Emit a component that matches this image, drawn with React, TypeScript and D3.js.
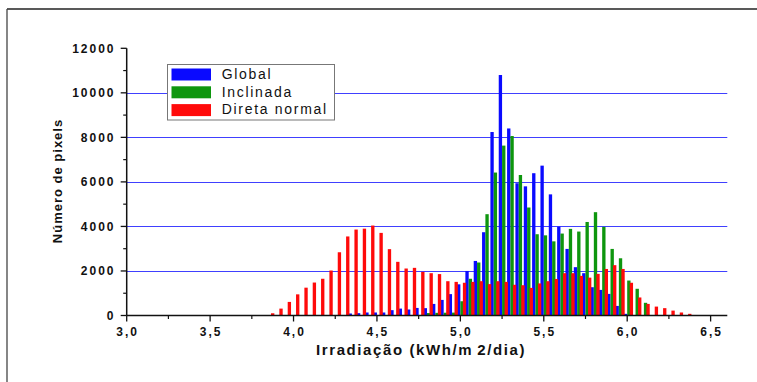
import React from "react";
import * as d3 from "d3";

// Bin positions (kWh/m2/dia), step 0.05
const bins: number[] = [
  3.85, 3.9, 3.95, 4.0, 4.05, 4.1, 4.15, 4.2, 4.25, 4.3,
  4.35, 4.4, 4.45, 4.5, 4.55, 4.6, 4.65, 4.7, 4.75, 4.8,
  4.85, 4.9, 4.95, 5.0, 5.05, 5.1, 5.15, 5.2, 5.25, 5.3,
  5.35, 5.4, 5.45, 5.5, 5.55, 5.6, 5.65, 5.7, 5.75, 5.8,
  5.85, 5.9, 5.95, 6.0, 6.05, 6.1, 6.15, 6.2, 6.25, 6.3, 6.35,
];

const globalValues: number[] = [
  0, 0, 0, 0, 0, 0, 0, 0, 0, 0,
  90, 105, 135, 135, 135, 240, 310, 270, 340, 330,
  520, 700, 960, 1400, 2000, 2450, 3740, 8240, 10800, 8400,
  5940, 5800, 6390, 6730, 5440, 3990, 2990, 2170, 1900, 1270,
  1150, 970, 430, 75, 0, 0, 0, 0, 0, 0, 0,
];

const inclinadaValues: number[] = [
  0, 0, 0, 0, 0, 0, 0, 0, 0, 0,
  0, 0, 0, 0, 0, 0, 0, 0, 0, 110,
  120, 125, 130, 640, 1650, 2380, 4550, 6420, 7630, 8060,
  6310, 4850, 3650, 3600, 3330, 3680, 3890, 3770, 4200, 4640,
  3980, 2990, 2570, 1570, 1200, 570, 0, 0, 0, 0, 0,
];

const diretaValues: number[] = [
  100, 310, 610, 950, 1250, 1480, 1650, 2020, 2840, 3550,
  3860, 3900, 4040, 3710, 2980, 2410, 2110, 2140, 1960, 1900,
  1860, 1540, 1510, 1470, 1510, 1540, 1410, 1540, 1510, 1380,
  1360, 1240, 1440, 1540, 1640, 1900, 1900, 1780, 1700, 1870,
  2090, 2260, 2090, 1470, 810, 520, 400, 330, 220, 135, 75,
];

const seriesNames: string[] = ["Global", "Inclinada", "Direta normal"];
const seriesColors: string[] = ["#0a0aff", "#0e960e", "#ff0a0a"];
const xTickLabels: string[] = ["3,0", "3,5", "4,0", "4,5", "5,0", "5,5", "6,0", "6,5"];
const yTickValues: number[] = [0, 2000, 4000, 6000, 8000, 10000, 12000];

const FONT = "Arial, 'Liberation Sans', sans-serif";

export default function App() {
  const W = 757;
  const H = 382;
  const x = d3.scaleLinear().domain([3, 6.6]).range([126.7, 727.3]);
  const y = d3.scaleLinear().domain([0, 12000]).range([315.5, 48.3]);

  const series = [
    { values: globalValues, offset: -0.02 },
    { values: inclinadaValues, offset: 0 },
    { values: diretaValues, offset: 0.015 },
  ];
  const barW = 0.02;

  const xMajor = d3.range(0, 8).map((i) => 3 + i * 0.5);
  const xMinor = d3.range(0, 14).map((i) => 3.25 + i * 0.5).filter((v) => v < 6.6);
  const yMinor = d3.range(0, 6).map((i) => 1000 + i * 2000);
  const grid = [2000, 4000, 6000, 8000, 10000];

  return (
    <svg
      width={W}
      height={H}
      style={{ position: "absolute", left: 0, top: 0, background: "#fff" }}
      fontFamily={FONT}
    >
      <rect x={0} y={0} width={W} height={H} fill="#fff" />
      {/* frame */}
      <line x1={7} x2={W} y1={9} y2={9} stroke="#222" strokeWidth={1.6} />
      <line x1={7} x2={7} y1={9} y2={H} stroke="#444" strokeWidth={1.3} />

      {/* grid */}
      {grid.map((g) => (
        <line key={g} x1={x(3)} x2={x(6.6)} y1={Math.round(y(g)) + 0.5} y2={Math.round(y(g)) + 0.5} stroke="#4040ff" strokeWidth={1} />
      ))}

      {/* bars */}
      {series.map((s, si) => (
        <g key={si} fill={seriesColors[si]}>
          {s.values.map((v, i) =>
            v > 0 ? (
              <rect
                key={i}
                x={x(bins[i] + s.offset)}
                width={x(bins[i] + s.offset + barW) - x(bins[i] + s.offset)}
                y={y(v)}
                height={y(0) - y(v)}
              />
            ) : null
          )}
        </g>
      ))}

      {/* axes */}
      <line x1={x(3)} x2={x(3)} y1={y(12000)} y2={y(0)} stroke="#111" strokeWidth={1.5} />
      <line x1={x(3)} x2={x(6.6)} y1={y(0)} y2={y(0)} stroke="#111" strokeWidth={1.5} />
      {yTickValues.map((t) => (
        <g key={t}>
          <line x1={x(3) - 6} x2={x(3)} y1={y(t)} y2={y(t)} stroke="#111" strokeWidth={1.3} />
          <text x={115.5} y={y(t)} dy="0.36em" textAnchor="end" fontSize={12} fontWeight="bold" letterSpacing={2} fill="#111">
            {t}
          </text>
        </g>
      ))}
      {yMinor.map((t) => (
        <line key={t} x1={x(3) - 3.5} x2={x(3)} y1={y(t)} y2={y(t)} stroke="#111" strokeWidth={1.2} />
      ))}
      {xMajor.map((t, i) => (
        <g key={t}>
          <line x1={x(t)} x2={x(t)} y1={y(0)} y2={y(0) + 6} stroke="#111" strokeWidth={1.3} />
          <text x={x(t) + 1} y={336} textAnchor="middle" fontSize={12} fontWeight="bold" letterSpacing={2} fill="#111">
            {xTickLabels[i]}
          </text>
        </g>
      ))}
      {xMinor.map((t) => (
        <line key={t} x1={x(t)} x2={x(t)} y1={y(0)} y2={y(0) + 3.5} stroke="#111" strokeWidth={1.2} />
      ))}

      {/* axis titles */}
      <text x={421} y={355} textAnchor="middle" fontSize={15} fontWeight="bold" letterSpacing={1.6} fill="#111">
        Irradiação (kWh/m<tspan dx={4}>2</tspan>/dia)
      </text>
      <text
        transform={`translate(62,181) rotate(-90)`}
        textAnchor="middle"
        fontSize={13}
        fontWeight="bold"
        letterSpacing={1}
        fill="#111"
      >
        Número de pixels
      </text>

      {/* legend */}
      <rect x={167.5} y={64.5} width={167} height={55.5} fill="#fff" stroke="#777" strokeWidth={1} />
      {seriesNames.map((n, i) => (
        <g key={n}>
          <rect x={171.5} y={68.5 + i * 17.8} width={39.5} height={12} fill={seriesColors[i]} />
          <text x={221.7} y={79 + i * 17.7} fontSize={14} letterSpacing={1.7} fill="#111">
            {n}
          </text>
        </g>
      ))}
    </svg>
  );
}
